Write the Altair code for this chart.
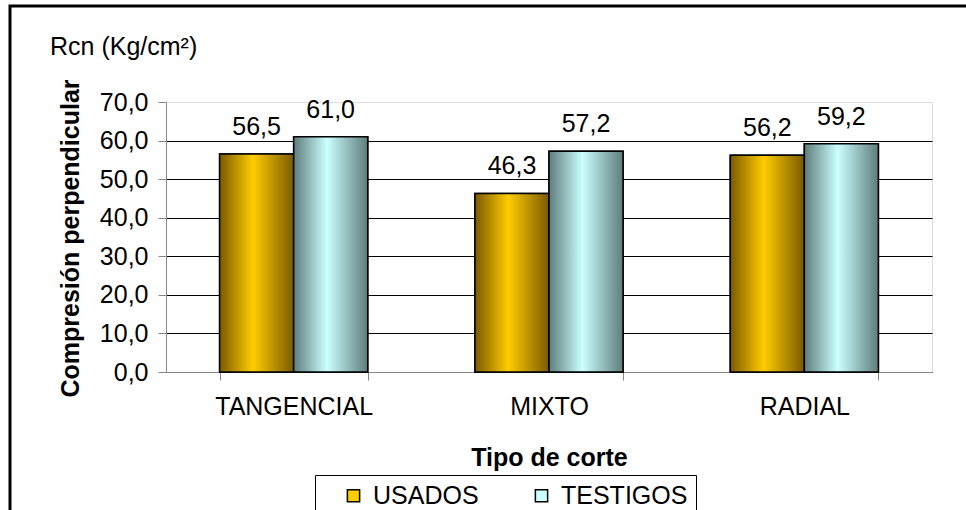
import altair as alt
import pandas as pd

# Compression perpendicular to the grain, by type of cut
categorias = ["TANGENCIAL", "MIXTO", "RADIAL"]
series = ["USADOS", "TESTIGOS"]
usados = [56.5, 46.3, 56.2]
testigos = [61.0, 57.2, 59.2]
ticks_y = [0, 10, 20, 30, 40, 50, 60, 70]
unidad = "Rcn (Kg/cm²)"

rows = []
for cat, u, t in zip(categorias, usados, testigos):
    rows.append({"corte": cat, "serie": "USADOS", "valor": u})
    rows.append({"corte": cat, "serie": "TESTIGOS", "valor": t})
df = pd.DataFrame(rows)

FONT = "Liberation Sans"
FS = 25


def cylinder(edge, centre):
    return alt.LinearGradient(
        gradient="linear",
        stops=[
            alt.GradientStop(color=edge, offset=0),
            alt.GradientStop(color=centre, offset=0.45),
            alt.GradientStop(color=edge, offset=1),
        ],
        x1=0, x2=1, y1=0, y2=0,
    )


x_enc = alt.X(
    "corte:N",
    sort=categorias,
    scale=alt.Scale(domain=categorias, paddingInner=0.42, paddingOuter=0.21),
    axis=alt.Axis(
        labelAngle=0,
        tickBand="extent",
        tickSize=8,
        labelPadding=34,
        labelBaseline="alphabetic",
        labelFontSize=FS,
        labelFont=FONT,
        title="Tipo de corte",
        titleFont=FONT,
        titleFontSize=FS,
        titleFontWeight="bold",
        titleX=383,
        titleY=93,
        titleBaseline="alphabetic",
        titleAlign="center",
    ),
)
xoff_enc = alt.XOffset(
    "serie:N", sort=series, scale=alt.Scale(domain=series, paddingInner=0, paddingOuter=0)
)
y_enc = alt.Y(
    "valor:Q",
    scale=alt.Scale(domain=[0, 70], nice=False),
    axis=alt.Axis(
        values=ticks_y,
        labelExpr="replace(format(datum.value, '.1f'), '.', ',')",
        tickSize=8,
        labelPadding=10,
        labelFontSize=FS,
        labelFont=FONT,
        grid=True,
        gridColor="black",
        gridWidth=1,
        gridOpacity={"condition": {"test": "datum.value >= 70", "value": 0}, "value": 1},
        title="Compresión perpendicular",
        titleFont=FONT,
        titleFontSize=FS,
        titleFontWeight="bold",
        titleAngle=270,
        titleX=-88,
        titleY=136,
        titleAlign="center",
        titleBaseline="alphabetic",
    ),
)

base = alt.Chart(df)

# solid bars carry the legend
bars = base.mark_bar(stroke="black", strokeWidth=1.5).encode(
    x=x_enc,
    xOffset=xoff_enc,
    y=y_enc,
    color=alt.Color(
        "serie:N",
        sort=series,
        scale=alt.Scale(domain=series, range=["#FFCC00", "#CCFFFF"]),
        legend=alt.Legend(
            title=None,
            orient="none",
            legendX=149,
            legendY=373,
            direction="horizontal",
            columns=2,
            labelFont=FONT,
            labelFontSize=FS,
            labelColor="black",
            symbolType="square",
            symbolSize=150,
            symbolStrokeColor="black",
            symbolStrokeWidth=1.5,
            symbolOpacity=1,
            symbolOffset=18,
            labelOffset=7,
            columnPadding=32,
            padding=8,
            strokeColor="black",
        ),
    ),
)

# shaded cylinder-like fills on top of the solid bars
shade_usados = base.transform_filter(alt.datum.serie == "USADOS").mark_bar(
    fill=cylinder("#7A5A00", "#FFCC00"), stroke="black", strokeWidth=1.5
).encode(x=x_enc, xOffset=xoff_enc, y=y_enc)

shade_testigos = base.transform_filter(alt.datum.serie == "TESTIGOS").mark_bar(
    fill=cylinder("#5F7C7C", "#CCFFFF"), stroke="black", strokeWidth=1.5
).encode(x=x_enc, xOffset=xoff_enc, y=y_enc)

labels = base.transform_calculate(
    etiqueta="replace(format(datum.valor, '.1f'), '.', ',')"
).mark_text(
    font=FONT, fontSize=FS, color="black", baseline="alphabetic", dy=-19
).encode(x=x_enc, xOffset=xoff_enc, y=y_enc, text="etiqueta:N")

single = alt.Data(values=[{"t": unidad}])

# unit caption above the value axis
caption = alt.Chart(single).mark_text(
    font=FONT, fontSize=FS, color="black", align="left", baseline="alphabetic"
).encode(x=alt.value(-116), y=alt.value(-47), text="t:N")

# outer frame around the whole figure
frame = alt.Chart(single).mark_rect(
    filled=False, stroke="black", strokeWidth=3
).encode(
    x=alt.value(-156), x2=alt.value(900), y=alt.value(-96), y2=alt.value(500)
)

chart = alt.layer(bars, shade_usados, shade_testigos, labels, caption, frame).properties(
    width=766,
    height=270,
    autosize=alt.AutoSizeParams(type="none"),
    padding={"left": 166, "top": 102, "right": 34, "bottom": 138},
).configure_view(stroke=None).configure_axis(
    domainColor="black",
    domainWidth=2,
    tickColor="black",
    tickWidth=1.5,
    labelColor="black",
    titleColor="black",
).configure(background="white")

chart.save("out.html", embed_options={"renderer": "svg", "actions": False})
